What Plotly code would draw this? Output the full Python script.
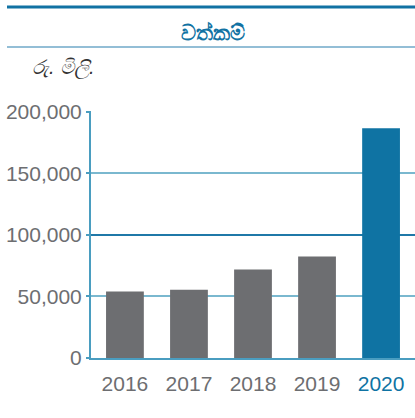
import plotly.graph_objects as go

years = ["2016", "2017", "2018", "2019", "2020"]
values = [53900, 55500, 71800, 82400, 186400]
bar_colors = ["#6d6e71", "#6d6e71", "#6d6e71", "#6d6e71", "#0f73a3"]
tick_colors = ["#6d6e71", "#6d6e71", "#6d6e71", "#6d6e71", "#0f73a3"]
y_ticks = [0, 50000, 100000, 150000, 200000]
y_tick_text = ["0", "50,000", "100,000", "150,000", "200,000"]
light_grid = [50000, 150000]
dark_grid = [100000, 200000]
title_text = "වත්කම්"
unit_text = "රු. මිලි."

W, H = 415, 418
L, R, T, B = 91, 0, 111, 60
pw, ph = W - L - R, H - T - B
Y_RANGE = [0, 200500]

def px_x(px):
    return (px - L) / pw

def px_y(py):
    return (H - B - py) / ph

fig = go.Figure()
fig.add_trace(go.Bar(
    x=list(range(len(years))), y=values,
    marker=dict(color=bar_colors, line=dict(width=0)),
    width=0.59, hoverinfo="skip",
))
# invisible helpers to activate the overlay axes carrying the two grid colours
for ax in ["y2", "y3"]:
    fig.add_trace(go.Scatter(x=[0], y=[0], yaxis=ax, mode="markers",
                             marker=dict(opacity=0), hoverinfo="skip"))

grid_axis = dict(range=Y_RANGE, overlaying="y", side="left",
                 showticklabels=False, zeroline=False, showline=False,
                 ticks="", showgrid=True, gridwidth=1.5)

fig.update_layout(
    width=W, height=H,
    margin=dict(l=L, r=R, t=T, b=B, pad=0),
    paper_bgcolor="white", plot_bgcolor="white",
    showlegend=False,
    font=dict(family="Liberation Sans, Arial, sans-serif", size=21, color="#6d6e71"),
    xaxis=dict(
        range=[-0.53, 4.53],
        tickvals=list(range(len(years))),
        ticktext=[f'<span style="color:{c}">{y}</span>' for y, c in zip(years, tick_colors)],
        showgrid=False, zeroline=False,
        showline=True, linecolor="#4a9dc0", linewidth=2,
        ticks="outside", ticklen=6, tickcolor="rgba(0,0,0,0)",
        tickfont=dict(size=21),
    ),
    yaxis=dict(
        range=Y_RANGE,
        tickvals=y_ticks, ticktext=y_tick_text,
        showgrid=False, zeroline=False,
        showline=True, linecolor="#4a9dc0", linewidth=2,
        ticks="outside", ticklen=3, tickcolor="#4a9dc0", tickwidth=1.5,
        tickfont=dict(size=21, color="#6d6e71"),
    ),
    yaxis2=dict(grid_axis, tickvals=light_grid, gridcolor="#7ab8cf"),
    yaxis3=dict(grid_axis, tickvals=dark_grid, gridcolor="#1f78a8"),
)

fig.add_shape(type="line", xref="paper", yref="paper",
              x0=px_x(7), x1=px_x(415), y0=px_y(7), y1=px_y(7),
              line=dict(color="#1172a3", width=3))
fig.add_shape(type="line", xref="paper", yref="paper",
              x0=px_x(7), x1=px_x(415), y0=px_y(47), y1=px_y(47),
              line=dict(color="#6fa9c8", width=1.5))

fig.add_annotation(text=f"<b>{title_text}</b>", xref="paper", yref="paper",
                   x=px_x(213), y=px_y(32), xanchor="center", yanchor="middle",
                   showarrow=False, font=dict(size=21, color="#1172a3"))
fig.add_annotation(text=f"<i>{unit_text}</i>", xref="paper", yref="paper",
                   x=px_x(30), y=px_y(68), xanchor="left", yanchor="middle",
                   showarrow=False, font=dict(size=20, color="#333333"))

fig.write_html("out.html", config={"displayModeBar": False},
               post_script="document.body.style.margin='0';")
